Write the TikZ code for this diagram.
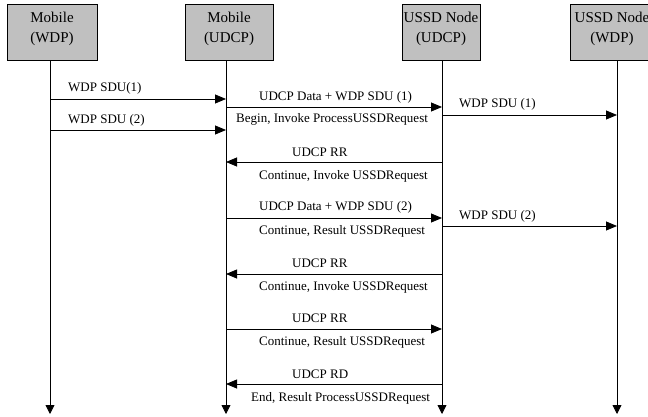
\documentclass[tikz,border=0pt]{standalone}
\usepackage{fontspec}
\setmainfont{Liberation Serif}
\usetikzlibrary{arrows.meta}
\definecolor{boxgray}{RGB}{192,192,192}

\begin{document}
\begin{tikzpicture}[x=1pt,y=-1pt,
    entity/.style={draw,fill=boxgray,line width=0.8pt,minimum height=56pt,
      inner sep=0pt,align=center,text depth=9pt,font=\fontsize{15}{20}\selectfont},
    life/.style={line width=0.8pt,-{Triangle[length=9pt,width=9pt]}},
    msg/.style={line width=0.8pt,-{Triangle[length=11pt,width=9pt]}},
    lbl/.style={anchor=west,inner sep=0pt,font=\fontsize{13}{15}\selectfont}]
  \useasboundingbox (0,0) rectangle (648,417);

  % entities
  \node[entity,minimum width=90pt] (mw) at (52,32) {Mobile\\(WDP)};
  \node[entity,minimum width=88pt] (mu) at (229,32) {Mobile\\(UDCP)};
  \node[entity,minimum width=78pt] (uu) at (441,32) {USSD Node\\(UDCP)};
  \node[entity,minimum width=84pt] (uw) at (612,32) {USSD Node\\(WDP)};

  % lifelines
  \coordinate (lw) at (mw.south -| 50,0);
  \coordinate (lu) at (mu.south -| 226,0);
  \coordinate (ru) at (uu.south -| 442,0);
  \coordinate (rw) at (uw.south -| 617,0);
  \draw[life] (lw) -- (lw |- 0,414);
  \draw[life] (lu) -- (lu |- 0,414);
  \draw[life] (ru) -- (ru |- 0,414);
  \draw[life] (rw) -- (rw |- 0,414);

  % mobile WDP -> mobile UDCP
  \draw[msg] (lw |- 0,99) -- (lu |- 0,99);
  \node[lbl] (t1) at (68,88) {WDP SDU(1)};
  \draw[msg] (lw |- 0,130) -- (lu |- 0,130);
  \node[lbl] (t2) at (68,120) {WDP SDU (2)};

  % first segment
  \draw[msg] (lu |- 0,107) -- (ru |- 0,107);
  \node[lbl] (t3) at (259,97) {UDCP Data + WDP SDU (1)};
  \node[lbl] (t4) at (236,119) {Begin, Invoke ProcessUSSDRequest};
  \draw[msg] (ru |- 0,115) -- (rw |- 0,115);
  \node[lbl] (t5) at (459,104) {WDP SDU (1)};

  \draw[msg] (ru |- 0,162) -- (lu |- 0,162);
  \node[lbl] (t6) at (292,152) {UDCP RR};
  \node[lbl] (t7) at (259,176) {Continue, Invoke USSDRequest};

  % second segment
  \draw[msg] (lu |- 0,218) -- (ru |- 0,218);
  \node[lbl] (t8) at (259,207) {UDCP Data + WDP SDU (2)};
  \node[lbl] (t9) at (259,231) {Continue, Result USSDRequest};
  \draw[msg] (ru |- 0,226) -- (rw |- 0,226);
  \node[lbl] (t10) at (459,216) {WDP SDU (2)};

  \draw[msg] (ru |- 0,274) -- (lu |- 0,274);
  \node[lbl] (t11) at (292,263) {UDCP RR};
  \node[lbl] (t12) at (259,287) {Continue, Invoke USSDRequest};

  \draw[msg] (lu |- 0,329) -- (ru |- 0,329);
  \node[lbl] (t13) at (292,318) {UDCP RR};
  \node[lbl] (t14) at (259,342) {Continue, Result USSDRequest};

  % end of dialogue
  \draw[msg] (ru |- 0,384) -- (lu |- 0,384);
  \node[lbl] (t15) at (292,374) {UDCP RD};
  \node[lbl] (t16) at (251,398) {End, Result ProcessUSSDRequest};
\end{tikzpicture}
\end{document}
